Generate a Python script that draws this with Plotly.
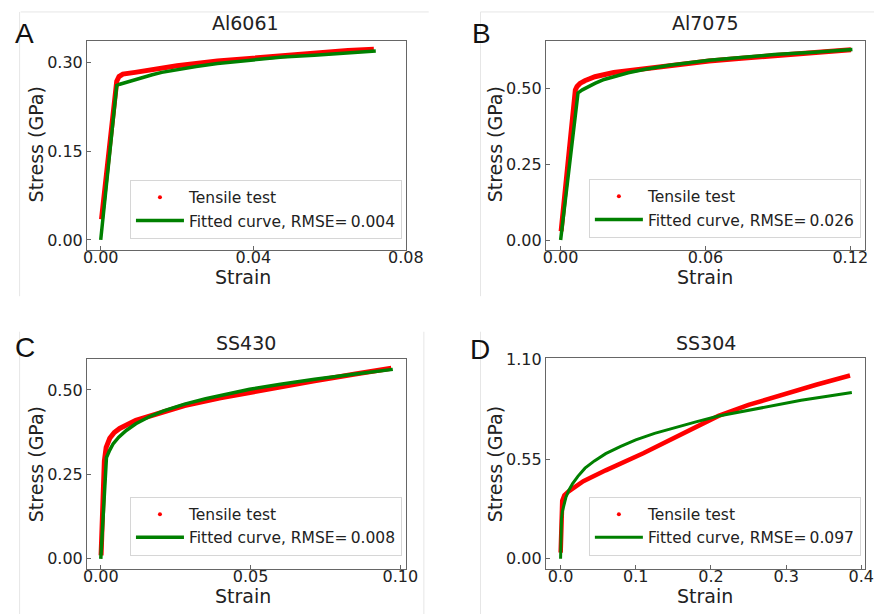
import plotly.graph_objects as go

W, H = 891, 614

# ---------------- data ----------------
a_test_strain = [0.0002, 0.0037, 0.0042, 0.0048, 0.0058, 0.0090, 0.0135, 0.0200, 0.0306, 0.0400, 0.0477, 0.0560, 0.0648, 0.0716]
a_test_stress = [0.035, 0.253, 0.268, 0.276, 0.280, 0.283, 0.288, 0.294, 0.302, 0.307, 0.312, 0.316, 0.320, 0.322]
a_fit_strain = [0.0, 0.0042, 0.0050, 0.0070, 0.0092, 0.0110, 0.0135, 0.0160, 0.0200, 0.0250, 0.0306, 0.0400, 0.0477, 0.0560, 0.0648, 0.0721]
a_fit_stress = [0.0, 0.261, 0.263, 0.267, 0.271, 0.275, 0.279, 0.283, 0.288, 0.293, 0.298, 0.304, 0.309, 0.312, 0.316, 0.319]

b_test_strain = [0.0002, 0.0061, 0.0068, 0.0080, 0.0100, 0.0142, 0.0220, 0.0345, 0.0450, 0.0615, 0.0750, 0.0885, 0.1050, 0.1203]
b_test_stress = [0.029, 0.4935, 0.505, 0.515, 0.524, 0.537, 0.551, 0.564, 0.575, 0.589, 0.598, 0.607, 0.617, 0.626]
b_fit_strain = [0.0, 0.0072, 0.0090, 0.0115, 0.0142, 0.0180, 0.0220, 0.0280, 0.0345, 0.0450, 0.0615, 0.0750, 0.0885, 0.1050, 0.1209]
b_fit_stress = [0.0, 0.484, 0.494, 0.505, 0.515, 0.528, 0.538, 0.550, 0.561, 0.575, 0.591, 0.600, 0.610, 0.618, 0.627]

c_test_strain = [0.0001, 0.0012, 0.0018, 0.0030, 0.0045, 0.0063, 0.0117, 0.0200, 0.0280, 0.0400, 0.0497, 0.0600, 0.0714, 0.0850, 0.0970]
c_test_stress = [0.010, 0.290, 0.330, 0.357, 0.374, 0.386, 0.410, 0.433, 0.454, 0.477, 0.493, 0.510, 0.527, 0.547, 0.564]
c_fit_strain = [0.0, 0.0019, 0.0030, 0.0041, 0.0060, 0.0085, 0.0117, 0.0160, 0.0210, 0.0280, 0.0350, 0.0420, 0.0497, 0.0600, 0.0714, 0.0850, 0.0975]
c_fit_stress = [0.0, 0.300, 0.322, 0.340, 0.360, 0.380, 0.400, 0.420, 0.438, 0.458, 0.474, 0.488, 0.502, 0.517, 0.532, 0.547, 0.561]

d_test_strain = [0.0001, 0.0015, 0.0022, 0.0050, 0.0108, 0.0303, 0.0600, 0.1100, 0.1600, 0.2100, 0.2500, 0.2940, 0.3400, 0.3850]
d_test_stress = [0.034, 0.250, 0.320, 0.350, 0.372, 0.428, 0.488, 0.582, 0.688, 0.788, 0.849, 0.905, 0.960, 1.011]
d_fit_strain = [0.0, 0.0005, 0.0012, 0.0025, 0.0045, 0.0070, 0.0110, 0.0160, 0.0230, 0.0325, 0.0450, 0.0600, 0.0800, 0.1000, 0.1250, 0.1500, 0.1800, 0.2100, 0.2450, 0.2800, 0.3200, 0.3550, 0.3874]
d_fit_stress = [0.0, 0.170, 0.220, 0.263, 0.303, 0.338, 0.378, 0.415, 0.455, 0.500, 0.540, 0.580, 0.620, 0.656, 0.692, 0.722, 0.755, 0.788, 0.815, 0.845, 0.874, 0.897, 0.917]

titles = ["Al6061", "Al7075", "SS430", "SS304"]
letters = ["A", "B", "C", "D"]
rmse = ["0.004", "0.026", "0.008", "0.097"]
x_tickvals = [[0, 0.04, 0.08], [0, 0.06, 0.12], [0, 0.05, 0.10], [0, 0.1, 0.2, 0.3, 0.4]]
x_ticktext = [["0.00", "0.04", "0.08"], ["0.00", "0.06", "0.12"], ["0.00", "0.05", "0.10"], ["0.0", "0.1", "0.2", "0.3", "0.4"]]
y_tickvals = [[0, 0.15, 0.30], [0, 0.25, 0.50], [0, 0.25, 0.50], [0, 0.55, 1.10]]
y_ticktext = [["0.00", "0.15", "0.30"], ["0.00", "0.25", "0.50"], ["0.00", "0.25", "0.50"], ["0.00", "0.55", "1.10"]]

# ---------------- layout geometry (pixels) ----------------
x_ranges = [[-0.0036, 0.0801], [-0.0061, 0.1262], [-0.0046, 0.1020], [-0.0195, 0.4052]]
y_ranges = [[-0.0167, 0.3367], [-0.032, 0.656], [-0.029, 0.5906], [-0.054, 1.1055]]
boxes = [(85, 412, 33, 245), (555, 882, 33, 245), (85, 412, 356, 568), (555, 882, 355, 568)]  # l, r, t, b
title_pos = [(247, 15), (718, 15), (248, 339), (719, 339)]
letter_pos = [(21, 26), (489, 26), (21, 344), (488, 346)]
xlab_pos = [(245, 273), (718, 273), (245, 596), (718, 596)]
ylab_pos = [(33, 138), (503, 138), (33, 462), (503, 462)]
legend_pos = [(129, 174), (599, 173), (129, 495), (599, 495)]

FONT = "DejaVu Sans"
TXT = "#222222"
RED = "#ff0000"
GREEN = "#008000"

tests = [(a_test_strain, a_test_stress), (b_test_strain, b_test_stress),
         (c_test_strain, c_test_stress), (d_test_strain, d_test_stress)]
fits = [(a_fit_strain, a_fit_stress), (b_fit_strain, b_fit_stress),
        (c_fit_strain, c_fit_stress), (d_fit_strain, d_fit_stress)]

def px(x):
    return x / W

def py(y):
    return 1 - y / H

fig = go.Figure()
layout = dict(
    width=W, height=H, margin=dict(l=0, r=0, t=0, b=0),
    paper_bgcolor="white", plot_bgcolor="white",
    font=dict(family=FONT, color=TXT, size=15),
    annotations=[], shapes=[],
)

for i in range(4):
    sfx = "" if i == 0 else str(i + 1)
    xa, ya = "x" + sfx, "y" + sfx
    leg = "legend" + sfx
    lw_fit = 3.0 if i == 3 else 3.5
    lw_test = 4.5 if i == 3 else 5.0
    tx, ty = tests[i]
    fx, fy = fits[i]
    fig.add_trace(go.Scatter(x=tx, y=ty, mode="lines", line=dict(color=RED, width=lw_test),
                             xaxis=xa, yaxis=ya, showlegend=False, hoverinfo="skip"))
    fig.add_trace(go.Scatter(x=[None], y=[None], mode="markers", name="Tensile test",
                             marker=dict(color=RED, size=4), xaxis=xa, yaxis=ya, legend=leg))
    fig.add_trace(go.Scatter(x=fx, y=fy, mode="lines", line=dict(color=GREEN, width=lw_fit),
                             name="Fitted curve, RMSE=\u2009" + rmse[i], xaxis=xa, yaxis=ya, legend=leg))

    l, r, t, b = boxes[i]
    axis_common = dict(showline=True, mirror=True, linecolor="#666666", linewidth=1,
                       ticks="inside", ticklen=4, tickcolor="#666666", tickwidth=1,
                       showgrid=False, zeroline=False,
                       tickfont=dict(family=FONT, size=16, color=TXT))
    layout["xaxis" + sfx] = dict(axis_common, domain=[px(l), px(r)], anchor=ya,
                                 range=x_ranges[i], tickvals=x_tickvals[i], ticktext=x_ticktext[i],
                                 ticklabelstandoff=-7)
    layout["yaxis" + sfx] = dict(axis_common, domain=[py(b), py(t)], anchor=xa,
                                 range=y_ranges[i], tickvals=y_tickvals[i], ticktext=y_ticktext[i])
    lx, ly = legend_pos[i]
    layout[leg] = dict(x=px(lx), y=py(ly), xanchor="left", yanchor="top",
                       xref="paper", yref="paper",
                       bgcolor="rgba(255,255,255,0.8)", bordercolor="#d6d6d6", borderwidth=1,
                       font=dict(family=FONT, size=15.5, color=TXT), itemsizing="trace",
                       itemwidth=48, tracegroupgap=0)

    ann = layout["annotations"]
    ann.append(dict(x=px(title_pos[i][0]), y=py(title_pos[i][1]), xref="paper", yref="paper",
                    text=titles[i], showarrow=False, xanchor="center", yanchor="middle",
                    font=dict(family=FONT, size=19, color=TXT)))
    ann.append(dict(x=px(letter_pos[i][0]), y=py(letter_pos[i][1]), xref="paper", yref="paper",
                    text=letters[i], showarrow=False, xanchor="center", yanchor="middle",
                    font=dict(family="Liberation Sans, Arial", size=28, color="#111111")))
    ann.append(dict(x=px(xlab_pos[i][0]), y=py(xlab_pos[i][1]), xref="paper", yref="paper",
                    text="Strain", showarrow=False, xanchor="center", yanchor="middle",
                    font=dict(family=FONT, size=19, color=TXT)))
    ann.append(dict(x=px(ylab_pos[i][0]), y=py(ylab_pos[i][1]), xref="paper", yref="paper",
                    text="Stress (GPa)", showarrow=False, xanchor="center", yanchor="middle",
                    textangle=-90, font=dict(family=FONT, size=19, color=TXT)))

# faint sub-figure borders visible in the reference
faint = "#e6e6e6"
for (x0, y0, x1, y1) in [(17, 4, 435, 4), (16, 4, 16, 292), (488, 4, 891, 4), (488, 4, 488, 292),
                         (16, 328, 16, 614), (430, 328, 430, 614), (488, 328, 488, 614)]:
    layout["shapes"].append(dict(type="line", xref="paper", yref="paper",
                                 x0=px(x0), y0=py(y0), x1=px(x1), y1=py(y1),
                                 line=dict(color=faint, width=1), layer="below"))

fig.update_layout(**layout)
fig.write_html("out.html")
